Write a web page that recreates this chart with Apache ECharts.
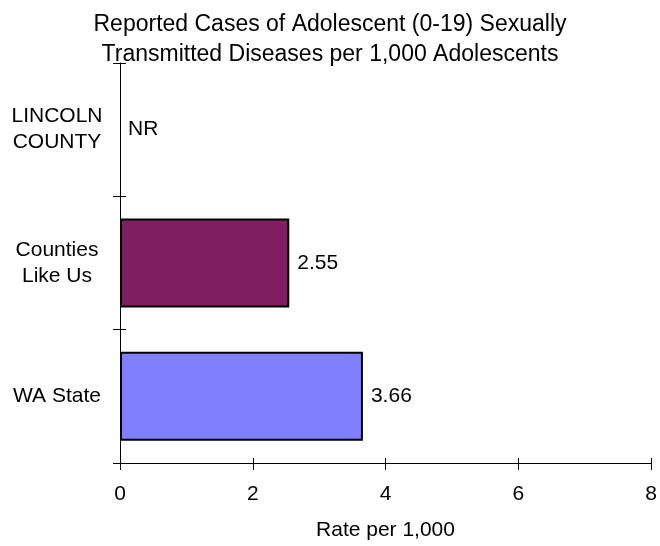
<!DOCTYPE html>
<html>
<head>
    <meta charset="utf-8">
    <title>Adolescent STD rate</title>
    <script src="https://cdn.jsdelivr.net/npm/echarts@6/dist/echarts.min.js"></script>
</head>
<body style="margin:0">
    <div id="main" style="width:660px;height:546px;"></div>
    <script type="text/javascript">
        // bottom to top, as the category axis draws them
        var categories = ['WA State', 'Counties Like Us', 'LINCOLN COUNTY'];
        var axisText = ['WA State', 'Counties\nLike Us', 'LINCOLN\nCOUNTY'];
        var rates = [3.66, 2.55, null];   // null = not reported
        var barColors = ['#8080FF', '#7F1F5F', '#7F1F5F'];
        var xTicks = [0, 2, 4, 6, 8];

        var myChart = echarts.init(document.getElementById('main'));
        var font = 'Liberation Sans, Arial, sans-serif';

        var barData = rates.map(function (v, i) {
            if (v === null) {
                return {
                    value: 0,
                    itemStyle: {color: barColors[i], borderWidth: 0},
                    label: {formatter: 'NR'}
                };
            }
            return {value: v, itemStyle: {color: barColors[i]}};
        });

        var xBase = {
            type: 'value',
            min: xTicks[0],
            max: xTicks[xTicks.length - 1],
            interval: 2,
            splitLine: {show: false}
        };

        var option = {
            title: {
                text: 'Reported Cases of Adolescent (0-19) Sexually\nTransmitted Diseases per 1,000 Adolescents',
                left: 'center',
                top: 5,
                textStyle: {fontFamily: font, fontSize: 23, fontWeight: 'normal', color: '#000', lineHeight: 30}
            },
            grid: {left: 120, right: 9, top: 63, bottom: 80},
            xAxis: [Object.assign({}, xBase, {
                name: 'Rate per 1,000',
                nameLocation: 'middle',
                nameGap: 57,
                nameTextStyle: {fontFamily: font, fontSize: 21, color: '#000'},
                axisLine: {show: true, lineStyle: {color: '#000', width: 1}},
                axisTick: {show: true, length: 7, lineStyle: {color: '#000'}},
                axisLabel: {fontFamily: font, fontSize: 21, color: '#000', margin: 21}
            }), Object.assign({}, xBase, {
                // upper half of the crossing ticks
                position: 'bottom',
                axisLine: {show: false},
                axisTick: {show: true, inside: true, length: 5, lineStyle: {color: '#000'}},
                axisLabel: {show: false}
            })],
            yAxis: [{
                type: 'category',
                data: categories,
                axisLine: {show: true, lineStyle: {color: '#000', width: 1}},
                axisTick: {show: true, length: 7, lineStyle: {color: '#000'}},
                axisLabel: {
                    fontFamily: font, fontSize: 21, color: '#000', align: 'center', margin: 63, lineHeight: 26,
                    formatter: function (val, idx) { return axisText[idx]; }
                }
            }, {
                // inner half of the crossing ticks
                type: 'category',
                data: categories,
                position: 'left',
                axisLine: {show: false},
                axisTick: {show: true, inside: true, length: 6, lineStyle: {color: '#000'}},
                axisLabel: {show: false}
            }],
            series: [{
                type: 'bar',
                data: barData,
                barWidth: '66.7%',
                itemStyle: {borderColor: '#000', borderWidth: 2},
                label: {
                    show: true,
                    position: 'right',
                    distance: 8,
                    fontFamily: font,
                    fontSize: 21,
                    color: '#000'
                },
                silent: true
            }],
            animation: false
        };

        myChart.setOption(option);
    </script>
</body>
</html>
